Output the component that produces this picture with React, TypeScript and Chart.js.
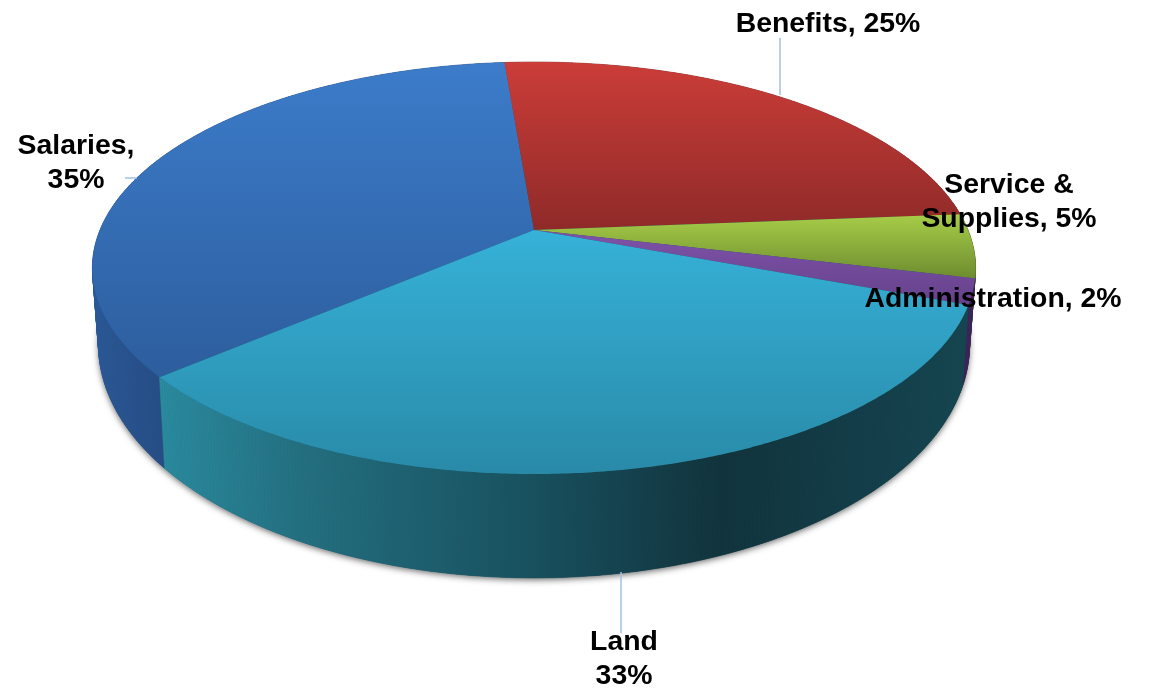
import React, { useEffect, useRef } from "react";
import { Chart, registerables } from "chart.js";

Chart.register(...registerables);

const categories = ["Salaries", "Benefits", "Service & Supplies", "Administration", "Land"];
const shares = [35, 25, 5, 2, 33];
const labelRows = [
  ["Salaries,", "35%"],
  ["Benefits, 25%"],
  ["Service &", "Supplies, 5%"],
  ["Administration, 2%"],
  ["Land", "33%"],
];
const firstSliceRotation = -130.6;

const topColors = [
  { y0: 62, y1: 375, c0: "#3c7cca", c1: "#2d5e9e" },
  { y0: 62, y1: 232, c0: "#cb3d38", c1: "#8e2a29" },
  { y0: 216, y1: 280, c0: "#a6cb47", c1: "#6c8b2f" },
  { y0: 232, y1: 305, c0: "#7f52a8", c1: "#65428c" },
  { y0: 232, y1: 474, c0: "#36b1d8", c1: "#298aa8" },
];
const sideColors = [
  [[98, "#2a5795"], [166, "#264c85"]],
  [[500, "#8e2a29"], [960, "#7a2423"]],
  [[940, "#5d7829"], [976, "#566f26"]],
  [[955, "#3a2358"], [976, "#3a2358"]],
  [[160, "#2a8a9e"], [300, "#236f80"], [534, "#18505e"], [720, "#11333c"], [860, "#133d48"], [975, "#15454f"]],
];
const labelCenters = [
  [76, 154],
  [828, 32],
  [1009, 193],
  [993, 307],
  [624, 650],
];
const leaders = [
  [[125, 178], [137, 178]],
  [[780, 38], [780, 95]],
  [[621, 572], [621, 633]],
];

// perspective of the disc: top plane, then the smaller base plane
const top = { cx: 534, cy: 230, bx: 434, ay: 199, k: -0.1845 };
const base = { cx: 534, cy: 302, bx: 428, ay: 225, k: -0.1845 };
const project = (p: typeof top, angle: number) => {
  const u = Math.cos(angle);
  const v = Math.sin(angle);
  const w = 1 + p.k * v;
  return [p.cx + (p.bx * u) / w, p.cy + (p.ay * v) / w];
};

const arcPoints = (p: typeof top, a0: number, a1: number) => {
  const n = Math.max(2, Math.ceil(((a1 - a0) * 180) / Math.PI / 0.5));
  const pts: number[][] = [];
  for (let i = 0; i <= n; i++) pts.push(project(p, a0 + ((a1 - a0) * i) / n));
  return pts;
};

const tracePoly = (ctx: CanvasRenderingContext2D, pts: number[][]) => {
  ctx.beginPath();
  pts.forEach(([x, y], i) => (i ? ctx.lineTo(x, y) : ctx.moveTo(x, y)));
  ctx.closePath();
};

const pie3d = {
  id: "pie3d",
  beforeDatasetsDraw(chart: any) {
    const ctx: CanvasRenderingContext2D = chart.ctx;
    const arcs = chart.getDatasetMeta(0).data;

    // soft shadow under the disc
    ctx.save();
    ctx.shadowColor = "rgba(60,60,60,0.75)";
    ctx.shadowBlur = 6;
    ctx.shadowOffsetX = 0;
    ctx.shadowOffsetY = 2;
    ctx.fillStyle = "#18505e";
    tracePoly(ctx, arcPoints(base, 0, Math.PI * 2));
    ctx.fill();
    ctx.restore();

    // walls, far to near; drawn as thin strips so the silhouette joins both rims
    const order = arcs
      .map((a: any, i: number) => ({ i, s: Math.sin((a.startAngle + a.endAngle) / 2) }))
      .sort((a: any, b: any) => a.s - b.s);
    order.forEach(({ i }: any) => {
      const a = arcs[i];
      const stops = sideColors[i] as [number, string][];
      const g = ctx.createLinearGradient(stops[0][0], 0, stops[stops.length - 1][0], 0);
      const span = stops[stops.length - 1][0] - stops[0][0];
      stops.forEach(([x, c]) => g.addColorStop((x - stops[0][0]) / span, c));
      const upper = arcPoints(top, a.startAngle, a.endAngle);
      const lower = arcPoints(base, a.startAngle, a.endAngle);
      ctx.fillStyle = g;
      ctx.strokeStyle = g;
      ctx.lineWidth = 0.6;
      for (let s = 0; s + 1 < upper.length; s++) {
        tracePoly(ctx, [upper[s], upper[s + 1], lower[s + 1], lower[s]]);
        ctx.fill();
        ctx.stroke();
      }
    });

    // top faces
    arcs.forEach((a: any, i: number) => {
      const st = topColors[i];
      const g = ctx.createLinearGradient(0, st.y0, 0, st.y1);
      g.addColorStop(0, st.c0);
      g.addColorStop(1, st.c1);
      ctx.fillStyle = g;
      tracePoly(ctx, [[top.cx, top.cy], ...arcPoints(top, a.startAngle, a.endAngle)]);
      ctx.fill();
    });
    return false;
  },
  afterDraw(chart: any) {
    const ctx: CanvasRenderingContext2D = chart.ctx;
    ctx.save();
    ctx.strokeStyle = "#a3bfe2";
    ctx.lineWidth = 1.5;
    leaders.forEach((line) => {
      ctx.beginPath();
      line.forEach(([x, y], i) => (i ? ctx.lineTo(x, y) : ctx.moveTo(x, y)));
      ctx.stroke();
    });
    ctx.fillStyle = "#000";
    ctx.font = 'bold 28.4px "Liberation Sans", Arial, sans-serif';
    ctx.textAlign = "center";
    ctx.textBaseline = "alphabetic";
    labelRows.forEach((rows, i) => {
      rows.forEach((row, r) => {
        ctx.fillText(row, labelCenters[i][0], labelCenters[i][1] + r * 34);
      });
    });
    ctx.restore();
  },
};

export default function App() {
  const ref = useRef<HTMLCanvasElement>(null);
  useEffect(() => {
    const chart = new Chart(ref.current!, {
      type: "pie",
      data: {
        labels: categories,
        datasets: [{ data: shares, backgroundColor: topColors.map((c) => c.c0), borderWidth: 0 }],
      },
      options: {
        animation: false,
        responsive: false,
        rotation: firstSliceRotation,
        plugins: { legend: { display: false }, tooltip: { enabled: false } },
      },
      plugins: [pie3d],
    } as any);
    return () => chart.destroy();
  }, []);
  return (
    <div style={{ position: "absolute", left: 0, top: 0, width: 1150, height: 689, background: "#fff" }}>
      <canvas ref={ref} width={1150} height={689} style={{ display: "block" }} />
    </div>
  );
}
